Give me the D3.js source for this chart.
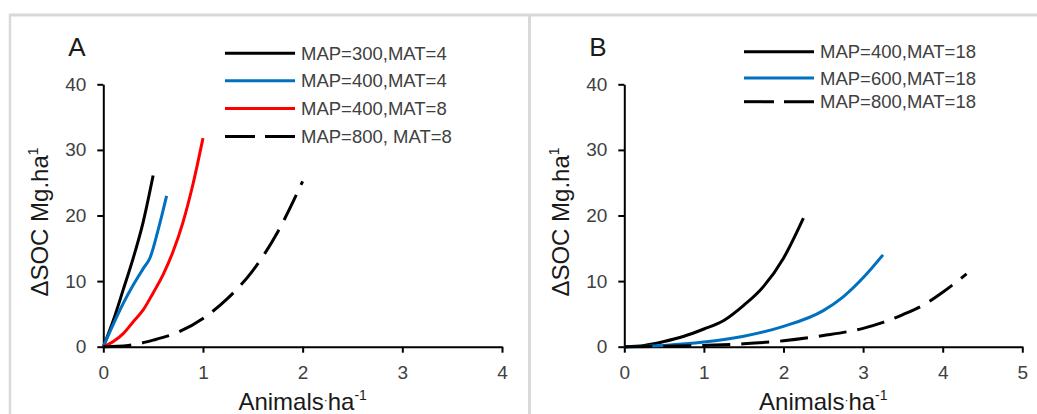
<!DOCTYPE html>
<html lang="en">
<head>
  <meta charset="UTF-8">
  <title>SOC vs stocking rate</title>
  <script src="https://d3js.org/d3.v7.min.js"></script>
  <style>
    body { margin: 0; background: #fff; font-family: Arial, "Liberation Sans", sans-serif; }
    .tick text { fill: #404040; font-size: 19px; }
    .axis path, .axis line { stroke: #000; stroke-width: 2px; }
    .legend text { fill: #404040; font-size: 18.5px; }
    .title { fill: #1a1a1a; font-size: 24px; }
  </style>
</head>
<body>
<svg id="chart" width="1037" height="414"></svg>
<script>
  // Panel A series (x = Animals/ha, y = dSOC Mg/ha)
  var a300x = [0, 0.1, 0.2, 0.3, 0.4, 0.5];
  var a300y = [0, 4, 8.7, 13.5, 19, 26.1];
  var a400x = [0, 0.1, 0.2, 0.3, 0.4, 0.47, 0.55, 0.635];
  var a400y = [0, 3.4, 6.6, 9.4, 11.9, 13.6, 17.8, 23];
  var a400m8x = [0, 0.1, 0.2, 0.3, 0.4, 0.5, 0.6, 0.7, 0.8, 0.9, 1.0];
  var a400m8y = [0, 0.8, 2, 3.8, 5.6, 8.2, 11, 14.5, 19, 24.8, 31.8];
  var a800x = [0, 0.25, 0.5, 0.75, 1.0, 1.25, 1.5, 1.75, 2.0];
  var a800y = [0, 0.2, 1, 2.2, 4.3, 7.4, 11.6, 17.5, 25.2];

  // Panel B series
  var b400x = [0, 0.25, 0.5, 0.75, 1.0, 1.25, 1.5, 1.75, 2.0, 2.25];
  var b400y = [0, 0.2, 0.8, 1.6, 2.7, 4.0, 6.3, 9.2, 13.5, 19.6];
  var b600x = [0, 0.5, 1.0, 1.5, 2.0, 2.5, 2.75, 3.0, 3.25];
  var b600y = [0, 0.2, 0.7, 1.6, 3.1, 5.5, 7.6, 10.5, 14.0];
  var b800x = [0, 1.0, 1.5, 2.0, 2.5, 3.0, 3.25, 3.5, 3.75, 4.0, 4.3];
  var b800y = [0, 0.2, 0.45, 0.9, 1.7, 2.8, 3.7, 4.9, 6.3, 8.3, 11.1];

  var yTicks = [0, 10, 20, 30, 40];
  var xTicksA = [0, 1, 2, 3, 4];
  var xTicksB = [0, 1, 2, 3, 4, 5];

  var svg = d3.select("#chart");

  // light grey frame around the two panels
  svg.append("line").attr("x1", 9).attr("x2", 1037).attr("y1", 15).attr("y2", 15)
    .attr("stroke", "#d9d9d9").attr("stroke-width", 3);
  svg.append("line").attr("x1", 10).attr("x2", 10).attr("y1", 14).attr("y2", 414)
    .attr("stroke", "#d9d9d9").attr("stroke-width", 2.5);
  svg.append("line").attr("x1", 529.5).attr("x2", 529.5).attr("y1", 14).attr("y2", 414)
    .attr("stroke", "#d9d9d9").attr("stroke-width", 3);

  function zip(xs, ys) {
    return xs.map(function (x, i) { return { x: x, y: ys[i] }; });
  }

  function panel(opts) {
    var x = d3.scaleLinear().domain([0, opts.xmax]).range([opts.left, opts.right]);
    var y = d3.scaleLinear().domain([0, 40]).range([346.7, 84.3]);
    var g = svg.append("g");

    g.append("g").attr("class", "axis")
      .attr("transform", "translate(0,346.7)")
      .call(d3.axisBottom(x).tickValues(opts.xticks).tickFormat(d3.format("d"))
        .tickSize(6).tickSizeOuter(0).tickPadding(8))
      .call(function (s) { s.selectAll("text").attr("dy", "0.95em"); });

    g.append("g").attr("class", "axis")
      .attr("transform", "translate(" + opts.left + ",0)")
      .call(d3.axisLeft(y).tickValues(yTicks).tickFormat(d3.format("d"))
        .tickSize(6).tickSizeOuter(0).tickPadding(11));

    g.selectAll(".axis .domain").attr("stroke-width", 2.2);

    var line = d3.line()
      .x(function (d) { return x(d.x); })
      .y(function (d) { return y(d.y); })
      .curve(d3.curveMonotoneX);

    opts.series.forEach(function (s) {
      g.append("path")
        .datum(zip(s.xs, s.ys))
        .attr("fill", "none")
        .attr("stroke", s.color)
        .attr("stroke-width", 3)
        .attr("stroke-dasharray", s.dash ? "28,11" : null)
        .attr("d", line);
    });

    // panel letter
    g.append("text").attr("x", opts.left - 35).attr("y", 56)
      .attr("font-size", 26).attr("fill", "#1a1a1a").text(opts.letter);

    // axis titles
    var yt = g.append("text").attr("class", "title")
      .attr("transform", "translate(" + (opts.left - 55) + ",222) rotate(-90)")
      .attr("text-anchor", "middle");
    yt.append("tspan").text("\u0394SOC Mg.ha");
    yt.append("tspan").attr("font-size", 14).attr("dy", -10).text("1");

    var xt = g.append("text").attr("class", "title")
      .attr("x", (opts.left + opts.right) / 2).attr("y", 410)
      .attr("text-anchor", "middle");
    xt.append("tspan").text("Animals");
    xt.append("tspan").attr("font-size", 12).attr("dy", -6).text("\u00b7");
    xt.append("tspan").attr("dy", 6).text("ha");
    xt.append("tspan").attr("font-size", 14).attr("dy", -10).text("-1");

    // legend
    var lg = g.append("g").attr("class", "legend");
    opts.series.forEach(function (s, i) {
      var ly = opts.legendY[i];
      lg.append("line")
        .attr("x1", opts.legendX).attr("x2", opts.legendX + 70)
        .attr("y1", ly).attr("y2", ly)
        .attr("stroke", s.color).attr("stroke-width", 3)
        .attr("stroke-dasharray", s.dash ? "30,10" : null);
      lg.append("text")
        .attr("x", opts.legendX + 76).attr("y", ly + 6.5)
        .text(s.name);
    });
  }

  panel({
    letter: "A", left: 103.3, right: 502, xmax: 4, xticks: xTicksA,
    legendX: 225, legendY: [53.3, 80.7, 108.5, 136.5],
    series: [
      { name: "MAP=300,MAT=4", xs: a300x, ys: a300y, color: "#000000" },
      { name: "MAP=400,MAT=4", xs: a400x, ys: a400y, color: "#0070C0" },
      { name: "MAP=400,MAT=8", xs: a400m8x, ys: a400m8y, color: "#FF0000" },
      { name: "MAP=800, MAT=8", xs: a800x, ys: a800y, color: "#000000", dash: true }
    ]
  });

  panel({
    letter: "B", left: 624.3, right: 1022.3, xmax: 5, xticks: xTicksB,
    legendX: 744, legendY: [51.7, 78, 101.7],
    series: [
      { name: "MAP=400,MAT=18", xs: b400x, ys: b400y, color: "#000000" },
      { name: "MAP=600,MAT=18", xs: b600x, ys: b600y, color: "#0070C0" },
      { name: "MAP=800,MAT=18", xs: b800x, ys: b800y, color: "#000000", dash: true }
    ]
  });
</script>
</body>
</html>
